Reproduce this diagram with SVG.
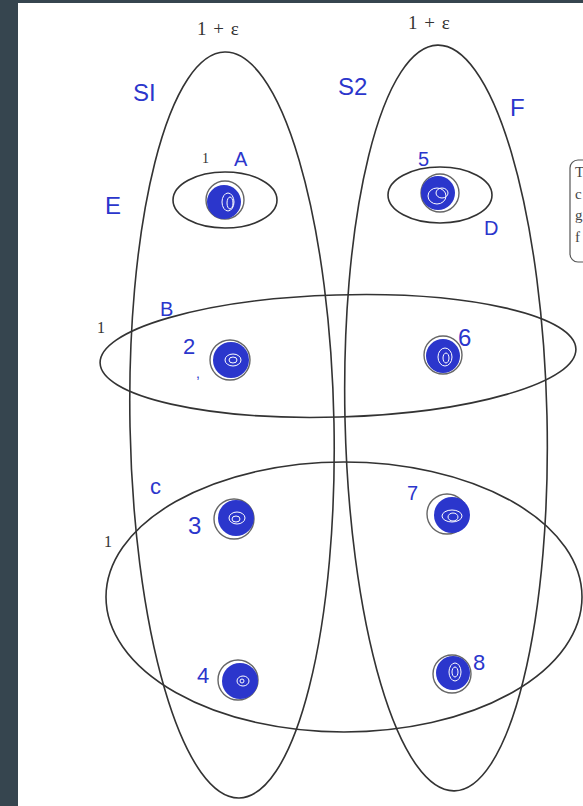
<svg xmlns="http://www.w3.org/2000/svg" width="583" height="806" viewBox="0 0 583 806">
<style>
.ring{fill:none;stroke:#333;stroke-width:1.6}
.dot{fill:none;stroke:#666;stroke-width:1.4}
.ink{fill:#2b36cc}
.swirl{fill:none;stroke:#fff;stroke-width:1}
.num{font-family:"Liberation Serif",serif;font-size:16px;fill:#333}
.eps{font-family:"Liberation Serif",serif;font-size:19px;fill:#333;letter-spacing:1px}
.hand{font-family:"Liberation Sans",sans-serif;font-size:24px;fill:#2b36cc;font-weight:300}
.box{font-family:"Liberation Serif",serif;font-size:15px;fill:#444}
</style>
<rect width="583" height="806" fill="#fff"/>
<rect x="0" y="0" width="18" height="806" fill="#36454f"/>
<rect x="0" y="0" width="583" height="3" fill="#36454f"/>
<g id="partial-box">
<rect x="570" y="160" width="40" height="102" rx="8" fill="none" stroke="#555" stroke-width="1.2"/>
<text class="box" x="575" y="177">T</text>
<text class="box" x="575" y="199">c</text>
<text class="box" x="575" y="220">g</text>
<text class="box" x="575" y="242">f</text>
</g>
<g id="S1">
<ellipse class="ring" cx="232" cy="425" rx="102" ry="373" transform="rotate(-1.1 232 425)"/>
<text class="eps" x="197" y="35">1 + ε</text>
<text class="hand" x="133" y="101">SI</text>
<text class="hand" x="105" y="214">E</text>
</g>
<g id="S2">
<ellipse class="ring" cx="446" cy="418" rx="101" ry="373" transform="rotate(-1.3 446 418)"/>
<text class="eps" x="408" y="29">1 + ε</text>
<text class="hand" x="338" y="95">S2</text>
<text class="hand" x="510" y="116">F</text>
</g>
<g id="B">
<ellipse class="ring" cx="338" cy="356" rx="238" ry="61" transform="rotate(-1.7 338 356)"/>
<text class="num" x="97" y="333">1</text>
<text class="hand" x="160" y="316" style="font-size:20px">B</text>
</g>
<g id="C">
<ellipse class="ring" cx="344" cy="597" rx="238" ry="135"/>
<text class="num" x="104" y="547">1</text>
<text class="hand" x="150" y="494" style="font-size:22px">c</text>
</g>
<g id="A">
<ellipse class="ring" cx="225" cy="200" rx="52" ry="28"/>
<text class="num" x="202" y="163" style="font-size:14px">1</text>
<text class="hand" x="234" y="166" style="font-size:20px">A</text>
</g>
<g id="D">
<ellipse class="ring" cx="440" cy="195" rx="52" ry="28"/>
<text class="hand" x="484" y="235" style="font-size:20px">D</text>
</g>
<g id="node1">
<circle class="dot" cx="225" cy="200" r="19"/>
<circle class="ink" cx="224" cy="202" r="17"/>
<ellipse class="swirl" cx="228" cy="202" rx="6" ry="9"/>
<ellipse class="swirl" cx="230" cy="203" rx="3" ry="6"/>
</g>
<g id="node5">
<circle class="dot" cx="440" cy="193" r="19"/>
<circle class="ink" cx="438" cy="193" r="17"/>
<ellipse class="swirl" cx="442" cy="193" rx="6" ry="5"/>
<ellipse class="swirl" cx="437" cy="196" rx="9" ry="8"/>
<text class="hand" x="418" y="166" style="font-size:20px">5</text>
</g>
<g id="node2">
<circle class="dot" cx="230" cy="360" r="20"/>
<circle class="ink" cx="231" cy="360" r="18"/>
<ellipse class="swirl" cx="233" cy="360" rx="8" ry="6"/>
<ellipse class="swirl" cx="233" cy="360" rx="4" ry="3"/>
<text class="hand" x="183" y="354" style="font-size:22px">2</text>
<text class="hand" x="196" y="378" style="font-size:14px">,</text>
</g>
<g id="node6">
<circle class="dot" cx="443" cy="355" r="19"/>
<circle class="ink" cx="443" cy="356" r="17"/>
<ellipse class="swirl" cx="445" cy="357" rx="7" ry="9"/>
<ellipse class="swirl" cx="446" cy="358" rx="3" ry="5"/>
<text class="hand" x="458" y="346" style="font-size:24px">6</text>
</g>
<g id="node3">
<circle class="dot" cx="234" cy="519" r="20"/>
<circle class="ink" cx="236" cy="518" r="18"/>
<ellipse class="swirl" cx="237" cy="518" rx="8" ry="6"/>
<ellipse class="swirl" cx="236" cy="519" rx="4" ry="3"/>
<text class="hand" x="188" y="534" style="font-size:24px">3</text>
</g>
<g id="node7">
<circle class="dot" cx="447" cy="514" r="20"/>
<circle class="ink" cx="452" cy="515" r="18"/>
<ellipse class="swirl" cx="452" cy="516" rx="10" ry="6"/>
<ellipse class="swirl" cx="453" cy="517" rx="5" ry="4"/>
<text class="hand" x="407" y="500" style="font-size:20px">7</text>
</g>
<g id="node4">
<circle class="dot" cx="238" cy="680" r="20"/>
<circle class="ink" cx="240" cy="681" r="18"/>
<ellipse class="swirl" cx="243" cy="681" rx="6" ry="5"/>
<ellipse class="swirl" cx="242" cy="681" rx="2" ry="2"/>
<text class="hand" x="197" y="683" style="font-size:22px">4</text>
</g>
<g id="node8">
<circle class="dot" cx="452" cy="674" r="19"/>
<circle class="ink" cx="453" cy="673" r="17"/>
<ellipse class="swirl" cx="455" cy="672" rx="6" ry="9"/>
<ellipse class="swirl" cx="455" cy="672" rx="3" ry="5"/>
<text class="hand" x="473" y="670" style="font-size:22px">8</text>
</g>
<g id="connectors"/>
</svg>
